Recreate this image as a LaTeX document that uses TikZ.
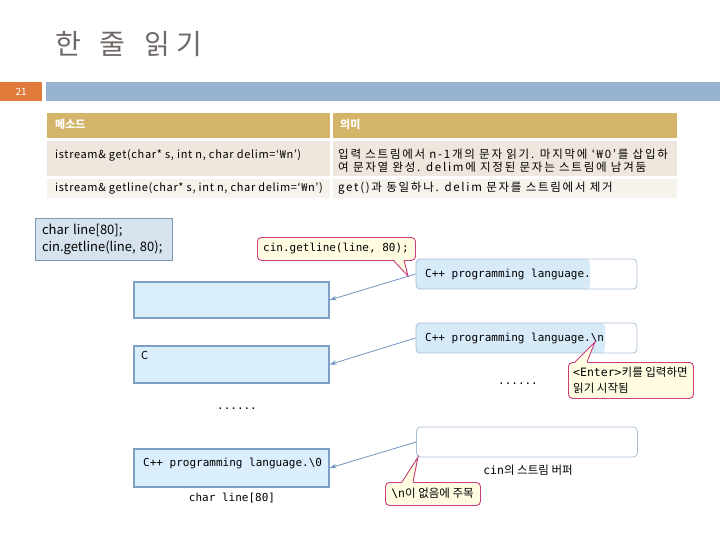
\documentclass[tikz,border=0pt]{standalone}
\usepackage{fontspec}
\setmainfont{Noto Sans CJK KR}
\newfontfamily\monof{DejaVu Sans Mono}
\newfontfamily\widekr[LetterSpace=15]{Noto Sans CJK KR}
\newfontfamily\semikr[LetterSpace=6]{Noto Sans CJK KR}
\usetikzlibrary{arrows.meta}
\definecolor{titlegray}{HTML}{6E6866}
\definecolor{numorange}{HTML}{E07B3C}
\definecolor{barblue}{HTML}{96B3D2}
\definecolor{hdrgold}{HTML}{D4B468}
\definecolor{rowa}{HTML}{EFE7DD}
\definecolor{rowb}{HTML}{F6F2EC}
\definecolor{codefill}{HTML}{D6E2EE}
\definecolor{codedraw}{HTML}{8097B0}
\definecolor{lbfill}{HTML}{DBEEFC}
\definecolor{lbdraw}{HTML}{7FA0C6}
\definecolor{rbdraw}{HTML}{A9BDD3}
\definecolor{rbfill}{HTML}{D7EAF8}
\definecolor{callfill}{HTML}{FFFCE1}
\definecolor{calldraw}{HTML}{C93D7E}
\definecolor{arrcol}{HTML}{7095C0}
\begin{document}
\begin{tikzpicture}[x=1pt,y=-1pt,
  cell/.style={anchor=north west, inner sep=0pt, minimum height=#1},
  ttext/.style={anchor=base west, inner sep=0pt, font=\semikr\fontsize{11}{13}\selectfont},
  ktext/.style={anchor=base west, inner sep=0pt, font=\widekr\fontsize{11.5}{13}\selectfont},
  htext/.style={anchor=base west, inner sep=0pt, text=white, font=\bfseries\fontsize{11}{13}\selectfont},
  lbox/.style={draw=lbdraw, fill=lbfill, line width=1.1pt, minimum width=195pt, inner sep=0pt},
  rbox/.style={draw=rbdraw, line width=0.8pt, rounded corners=4pt, minimum width=221pt, minimum height=30pt, inner sep=0pt},
  callout/.style={draw=calldraw, fill=callfill, line width=0.9pt, rounded corners=4pt, inner sep=0pt, anchor=north west},
  mtext/.style={inner sep=0pt, font=\monof\fontsize{11}{13}\selectfont},
  arr/.style={draw=arrcol, line width=0.8pt, -{Stealth[length=7pt,width=4.5pt]}},
]
\useasboundingbox (0,0) rectangle (720,540);

% title and bar
\node[anchor=base west, inner sep=0pt, text=titlegray, font=\fontsize{28}{28}\selectfont] (title) at (55,55) {한\hspace{19pt}줄\hspace{19pt}읽\hspace{6pt}기};
\node[anchor=north west, fill=numorange, minimum width=42pt, minimum height=19pt, inner sep=0pt, text=white, font=\fontsize{10}{10}\selectfont] (num) at (0,82) {21};
\node[anchor=north west, fill=barblue, minimum width=674pt, minimum height=19pt, inner sep=0pt] (bar) at (46,82) {};

% table
\node[cell=25pt, fill=hdrgold, minimum width=283pt] (h1) at (47,113) {};
\node[cell=25pt, fill=hdrgold, minimum width=344pt] (h2) at (333,113) {};
\node[cell=35pt, fill=rowa, minimum width=283pt] (c11) at (47,141) {};
\node[cell=35pt, fill=rowa, minimum width=344pt] (c12) at (333,141) {};
\node[cell=19pt, fill=rowb, minimum width=283pt] (c21) at (47,179) {};
\node[cell=19pt, fill=rowb, minimum width=344pt] (c22) at (333,179) {};

\node[htext] (th1) at (55,129) {메소드};
\node[htext] (th2) at (340,129) {의미};
\node[ttext] (t11) at (55,159) {istream\& get(char* s, int n, char delim=‘₩n’)};
\node[ktext] (t12a) at (338,159) {입력 스트림에서 n-1개의 문자 읽기. 마지막에 ‘₩0’를 삽입하};
\node[ktext] (t12b) at (338,171.5) {여 문자열 완성. delim에 지정된 문자는 스트림에 남겨둠};
\node[ttext] (t21) at (55,192) {istream\& getline(char* s, int n, char delim=‘₩n’)};
\node[ktext] (t22) at (338,192) {get()과 동일하나. delim 문자를 스트림에서 제거};

% code box
\node[draw=codedraw, fill=codefill, line width=0.9pt, minimum width=137pt, minimum height=42pt, inner xsep=7pt, text width=123pt, align=left, font=\fontsize{13}{17}\selectfont] (code) at (103.5,239) {char line[80];\\cin.getline(line, 80);};

% left boxes
\node[lbox, minimum height=36pt] (la) at (231.5,300) {};
\node[lbox, minimum height=37pt] (lb) at (231.5,364.5) {};
\node[anchor=north west, inner sep=0pt, font=\fontsize{11}{13}\selectfont] (lbt) at (141,351) {C};
\node[mtext] (dotl) at (237,409) {......};
\node[lbox, minimum height=38pt] (lc) at (231.5,468) {};
\node[mtext, anchor=base west] (lct) at (143,466) {C++ programming language.\textbackslash 0};
\node[mtext] (lcl) at (232,498) {char line[80]};

% right boxes (stream buffer)
\node[rbox, path picture={\fill[rbfill] (path picture bounding box.north west) rectangle ([xshift=174pt]path picture bounding box.south west);}] (ra) at (526.5,274) {};
\node[mtext, anchor=west] (rat) at (425,274) {C++ programming language.};
\node[rbox, path picture={\fill[rbfill] (path picture bounding box.north west) rectangle ([xshift=189pt]path picture bounding box.south west);}] (rb) at (526.5,338) {};
\node[mtext, anchor=west] (rbt) at (425,338) {C++ programming language.\textbackslash n};
\node[mtext] (dotr) at (518,384) {......};
\node[rbox] (rc) at (527,442) {};
\node[inner sep=0pt, font=\fontsize{11.5}{13}\selectfont] (rcl) at (528,470) {{\monof cin}의 스트림 버퍼};

% arrows
\draw[arr] (ra.west) -- (la.east);
\draw[arr] (rb.west) -- (lb.east);
\draw[arr] (rc.west) -- (lc.east);

% callout 1: cin.getline
\node[callout, minimum width=158pt, minimum height=23pt] (cg) at (257,237) {};
\node[mtext] (cgt) at (336,248.5) {cin.getline(line, 80);};
\coordinate (cgtip) at (408,276);
\fill[callfill] (393,259) -- (cgtip) -- (404,259) -- cycle;
\draw[calldraw, line width=0.9pt] (393,260) -- (cgtip) -- (404,260);

% callout 2: Enter
\node[callout, minimum width=125pt, minimum height=36pt] (ce) at (568,362) {};
\node[anchor=base west, inner sep=0pt, font=\fontsize{11.5}{15}\selectfont] (cet1) at (573,376) {{\monof <Enter>}키를 입력하면};
\node[anchor=base west, inner sep=0pt, font=\fontsize{11.5}{15}\selectfont] (cet2) at (573,392) {읽기 시작됨};
\coordinate (cetip) at (595,342);
\fill[callfill] (575,363) -- (cetip) -- (587,363) -- cycle;
\draw[calldraw, line width=0.9pt] (575,362) -- (cetip) -- (587,362);

% callout 3: no \n
\node[callout, minimum width=95pt, minimum height=23pt] (cn) at (385,482) {};
\node[inner sep=0pt, font=\fontsize{11.5}{13}\selectfont] (cnt) at (432.5,493.5) {{\monof\textbackslash n}이 없음에 주목};
\coordinate (cntip) at (418,457);
\fill[callfill] (402,483) -- (cntip) -- (413,483) -- cycle;
\draw[calldraw, line width=0.9pt] (402,482) -- (cntip) -- (413,482);
\end{tikzpicture}
\end{document}
